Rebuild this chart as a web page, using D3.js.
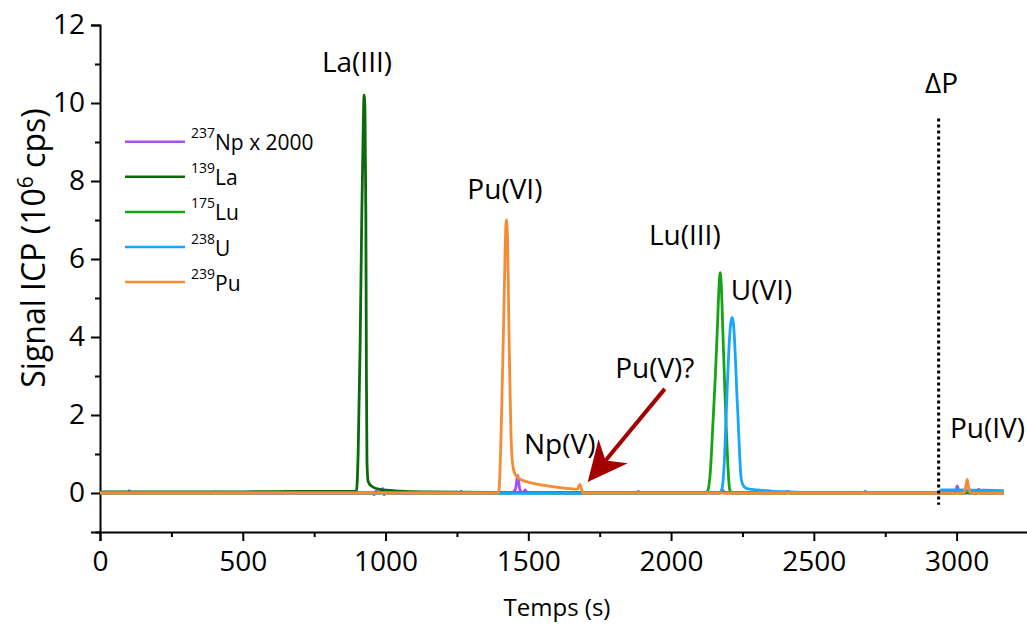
<!DOCTYPE html>
<html>
<head>
<meta charset="utf-8">
<script src="https://cdn.jsdelivr.net/npm/d3@7"></script>
<style>
  html, body { margin: 0; padding: 0; background: #fff; }
  svg { display: block; font-family: "Open Sans", "Noto Sans", sans-serif; }
</style>
</head>
<body>
<svg id="chart" width="1027" height="627"></svg>
<script>
// ---- Data (time in s, signal in 10^6 cps) ----
const npData = [[0,0],[98,0],[102,0.06],[106,0],[400,0],[405,0.03],[410,0],[645,0],[650,0.05],[655,0],
  [955,0],[960,-0.05],[965,0.05],[985,0],[990,0.12],[995,-0.05],[1000,0],[1260,0],[1265,0.04],[1270,0],
  [1440,0],[1455,0.1],[1463,0.45],[1470,0.1],[1480,0],[1490,0.08],[1495,0],[1880,0],[1885,0.04],[1890,0],
  [2170,0],[2180,0.08],[2190,0],[2400,0],[2410,0.04],[2420,0],[2670,0],[2680,0.04],[2690,0],
  [2995,0],[3002,0.18],[3010,0],[3070,0],[3077,0.1],[3085,0],[3135,0],[3140,0.05],[3150,0],[3165,0]];
const laData = [[0,0.03],[500,0.03],[700,0.04],[898,0.04],[904,1.0],[911,3.8],[917,7.2],[921,9.0],[925,10.2],
  [928,9.8],[931,7.2],[933,3.0],[935,0.8],[939,0.3],[950,0.18],[980,0.09],[1050,0.05],[1143,0.03],
  [1373,0.015],[1700,0.01],[2500,0.01],[3165,0.01]];
const luData = [[0,0],[2120,0],[2128,0.05],[2138,0.6],[2146,1.7],[2155,3.0],[2162,4.2],[2168,5.3],[2172,5.65],
  [2176,5.3],[2182,4.0],[2188,2.7],[2193,1.7],[2199,0.7],[2205,0.1],[2212,0],[3030,0],[3037,0.06],[3044,0],[3165,0]];
const uData = [[0,0],[2170,0],[2178,0.1],[2185,0.6],[2193,2.0],[2200,3.3],[2208,4.3],[2214,4.5],[2219,4.3],
  [2225,3.5],[2230,2.6],[2234,2.0],[2240,1.0],[2245,0.4],[2252,0.2],[2263,0.12],[2300,0.08],[2350,0.05],
  [2415,0.03],[2500,0.01],[2940,0.01],[2946,0.08],[3000,0.08],[3100,0.07],[3165,0.06]];
const puData = [[0,0],[1393,0],[1397,0.05],[1405,1.6],[1414,4.5],[1423,7.0],[1427,6.6],[1431,4.8],[1435,3.0],
  [1439,1.6],[1443,0.9],[1450,0.55],[1460,0.42],[1475,0.34],[1500,0.28],[1550,0.2],[1600,0.15],[1650,0.11],
  [1672,0.1],[1680,0.22],[1686,0.1],[1692,0],[3025,0],[3032,0.15],[3037,0.35],[3042,0.15],[3050,0],[3165,0]];

const seriesNames = ["Np x 2000", "La", "Lu", "U", "Pu"];
const seriesIsotopes = ["237", "139", "175", "238", "239"];
const seriesColors = ["#a552f5", "#0b6a0b", "#17a317", "#18a5ff", "#f58b33"];
const seriesData = [npData, laData, luData, uData, puData];

const xMajorTicks = [0, 500, 1000, 1500, 2000, 2500, 3000];
const xMinorTicks = [250, 750, 1250, 1750, 2250, 2750];
const yMajorTicks = [0, 2, 4, 6, 8, 10, 12];
const yMinorTicks = [-1, 1, 3, 5, 7, 9, 11];

const annotations = [
  {text: "La(III)", t: 900, v: 10.8},
  {text: "Pu(VI)", t: 1418, v: 7.55},
  {text: "Lu(III)", t: 2048, v: 6.35},
  {text: "U(VI)", t: 2317, v: 4.95},
  {text: "Np(V)", t: 1610, v: 1.0},
  {text: "Pu(V)?", t: 1943, v: 2.95},
  {text: "\u0394P", t: 2947, v: 10.25},
  {text: "Pu(IV)", t: 3108, v: 1.4}
];
const deltaP = {t: 2937, v0: -0.3, v1: 9.6};
const arrow = {t0: 1978, v0: 2.67, t1: 1708, v1: 0.28};

// ---- Scales ----
const svg = d3.select("#chart");
const x = d3.scaleLinear().domain([0, 3250]).range([100, 1028]);
const y = d3.scaleLinear().domain([-1, 12]).range([532, 25]);

// ---- Axes ----
const axisG = svg.append("g");
const xAxis = axisG.append("g").attr("transform", `translate(0,${y(-1)})`)
  .call(d3.axisBottom(x).tickValues(xMajorTicks).tickSize(9).tickPadding(10).tickFormat(d3.format("d")));
const xAxisMinor = axisG.append("g").attr("transform", `translate(0,${y(-1)})`)
  .call(d3.axisBottom(x).tickValues(xMinorTicks).tickSize(5).tickFormat(""));
const yAxis = axisG.append("g").attr("transform", `translate(${x(0)},0)`)
  .call(d3.axisLeft(y).tickValues(yMajorTicks).tickSize(9).tickPadding(6).tickFormat(d3.format("d")));
const yAxisMinor = axisG.append("g").attr("transform", `translate(${x(0)},0)`)
  .call(d3.axisLeft(y).tickValues(yMinorTicks).tickSize(5).tickFormat(""));
[xAxisMinor, yAxisMinor].forEach(g => g.select(".domain").remove());
axisG.selectAll(".domain").attr("stroke", "#000").attr("stroke-width", 2);
axisG.selectAll(".tick line").attr("stroke", "#000").attr("stroke-width", 2);
axisG.selectAll(".tick text").attr("fill", "#000").style("font-size", "28px")
  .style("font-family", "'Open Sans', sans-serif");

// axis titles
svg.append("text").attr("x", 557).attr("y", 616).attr("text-anchor", "middle")
  .style("font-size", "24px").text("Temps (s)");
const yt = svg.append("text").attr("transform", `translate(45,${248}) rotate(-90)`)
  .attr("text-anchor", "middle").style("font-size", "32px");
yt.append("tspan").text("Signal ICP (10");
yt.append("tspan").attr("dy", -12).style("font-size", "21px").text("6");
yt.append("tspan").attr("dy", 12).text(" cps)");

// ---- Lines ----
const line = d3.line().x(d => x(d[0])).y(d => y(d[1])).curve(d3.curveMonotoneX);
svg.append("g").selectAll("path").data(seriesData).join("path")
  .attr("d", line).attr("fill", "none")
  .attr("stroke", (d, i) => seriesColors[i]).attr("stroke-width", 2.8)
  .attr("stroke-linejoin", "round");

// ---- Delta P dotted line ----
svg.append("line").attr("x1", x(deltaP.t)).attr("x2", x(deltaP.t))
  .attr("y1", y(deltaP.v1)).attr("y2", y(deltaP.v0))
  .attr("stroke", "#000").attr("stroke-width", 3).attr("stroke-dasharray", "3,3");

// ---- Annotations ----
svg.append("g").selectAll("text").data(annotations).join("text")
  .attr("x", d => x(d.t)).attr("y", d => y(d.v)).attr("text-anchor", "middle")
  .style("font-size", "28px").attr("fill", "#000").text(d => d.text);

// ---- Arrow ----
(function () {
  const x0 = x(arrow.t0), y0 = y(arrow.v0), x1 = x(arrow.t1), y1 = y(arrow.v1);
  const dx = x1 - x0, dy = y1 - y0, L = Math.hypot(dx, dy);
  const ux = dx / L, uy = dy / L, px = -uy, py = ux;
  const headLen = 40, halfW = 19, notch = 12;
  const bx = x1 - ux * headLen, by = y1 - uy * headLen;
  const nx = x1 - ux * (headLen - notch), ny = y1 - uy * (headLen - notch);
  svg.append("line").attr("x1", x0).attr("y1", y0).attr("x2", nx).attr("y2", ny)
    .attr("stroke", "#a50000").attr("stroke-width", 4);
  svg.append("path").attr("d", `M${x1},${y1} L${bx + px * halfW},${by + py * halfW} L${nx},${ny} L${bx - px * halfW},${by - py * halfW} Z`)
    .attr("fill", "#a50000");
})();

// ---- Legend ----
const legend = svg.append("g");
seriesNames.forEach((name, i) => {
  const ly = 141.7 + i * 35.1;
  legend.append("line").attr("x1", 125).attr("x2", 185).attr("y1", ly).attr("y2", ly)
    .attr("stroke", seriesColors[i]).attr("stroke-width", 2.5);
  const t = legend.append("text").attr("x", 191).attr("y", ly + 8.5).style("font-size", "21px");
  t.append("tspan").attr("dy", -12).style("font-size", "14px").text(seriesIsotopes[i]);
  t.append("tspan").attr("dy", 12).text(name);
});
</script>
</body>
</html>
